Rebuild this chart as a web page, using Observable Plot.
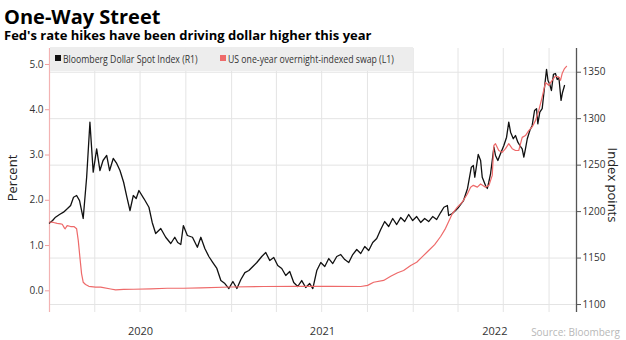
<!DOCTYPE html>
<html><head><meta charset="utf-8">
<script src="https://cdn.jsdelivr.net/npm/d3@7"></script>
<script src="https://cdn.jsdelivr.net/npm/@observablehq/plot@0.6"></script>
<style>
html,body{margin:0;padding:0;background:#fff;overflow:hidden;width:626px;height:340px;}
#wrap{position:relative;width:626px;height:340px;font-family:"Open Sans",sans-serif;color:#000;}
#title{position:absolute;left:4px;top:7px;font-weight:700;font-size:20px;line-height:20px;white-space:nowrap;}
#subtitle{position:absolute;left:4px;top:28px;font-weight:700;font-size:13px;line-height:14px;white-space:nowrap;}
#chart{position:absolute;left:0;top:44px;}
#legend{position:absolute;left:50px;top:47px;width:363px;height:24px;background:rgba(236,236,236,0.95);font-size:10px;color:#333;}
.li{position:absolute;top:0;line-height:24px;white-space:nowrap;}
.sq{position:absolute;top:8px;width:6px;height:6px;}
.lt{display:inline-block;transform:scaleX(0.87);transform-origin:left center;}
.ylab{position:absolute;width:120px;height:16px;line-height:16px;font-size:13px;text-align:center;color:#222;white-space:nowrap;}
#source{position:absolute;right:6px;top:326px;font-size:10px;line-height:13px;color:#b8b8b8;}
</style></head>
<body>
<div id="wrap">
  <div id="title">One-Way Street</div>
  <div id="subtitle">Fed's rate hikes have been driving dollar higher this year</div>
  <div id="chart"></div>
  <div id="legend"></div>
  <div class="ylab" id="ylabL" style="left:-48px;top:170px;transform:rotate(-90deg);">Percent</div>
  <div class="ylab" id="ylabR" style="left:553px;top:177px;transform:rotate(90deg);">Index points</div>
  <div id="source">Source: Bloomberg</div>
</div>
<script>
// ---- Data (decimal year, value) ----
const seriesNames = ["Bloomberg Dollar Spot Index (R1)", "US one-year overnight-indexed swap (L1)"];
const seriesColors = ["#111111", "#ee6a6a"];

// Bloomberg Dollar Spot Index, index points (right axis)
const dollarSeries = [
 [2020.000,1187.7],[2020.017,1190.4],[2020.033,1194.0],[2020.055,1196.9],[2020.077,1199.4],[2020.099,1203.3],
 [2020.116,1206.6],[2020.132,1215.5],[2020.149,1217.3],[2020.165,1211.9],[2020.185,1192.6],[2020.204,1237.0],
 [2020.222,1296.2],[2020.240,1242.4],[2020.259,1267.6],[2020.277,1244.2],[2020.294,1255.0],[2020.314,1260.4],
 [2020.330,1244.2],[2020.350,1257.2],[2020.369,1251.8],[2020.387,1244.2],[2020.407,1231.6],[2020.424,1216.3],
 [2020.442,1201.2],[2020.460,1217.3],[2020.476,1214.1],[2020.491,1222.7],[2020.519,1213.8],[2020.546,1204.7],
 [2020.564,1188.3],[2020.583,1176.4],[2020.611,1181.8],[2020.638,1172.4],[2020.666,1165.7],[2020.688,1172.4],
 [2020.704,1166.7],[2020.721,1164.6],[2020.735,1185.0],[2020.757,1174.3],[2020.785,1172.4],[2020.812,1161.7],
 [2020.831,1172.4],[2020.853,1160.3],[2020.875,1151.7],[2020.897,1145.2],[2020.919,1138.8],[2020.941,1125.8],
 [2020.963,1122.6],[2020.985,1117.2],[2021.007,1124.8],[2021.029,1117.2],[2021.051,1126.9],[2021.073,1134.4],
 [2021.095,1136.6],[2021.117,1140.9],[2021.139,1145.2],[2021.166,1151.7],[2021.188,1156.0],[2021.210,1147.4],
 [2021.232,1150.6],[2021.254,1142.0],[2021.276,1138.8],[2021.298,1131.2],[2021.320,1135.5],[2021.342,1123.7],
 [2021.364,1119.4],[2021.386,1125.8],[2021.408,1118.3],[2021.430,1122.6],[2021.447,1117.2],[2021.469,1136.6],
 [2021.491,1145.2],[2021.513,1140.9],[2021.535,1149.5],[2021.557,1144.1],[2021.579,1151.7],[2021.601,1153.8],
 [2021.623,1148.4],[2021.645,1145.2],[2021.667,1153.8],[2021.689,1159.2],[2021.711,1154.9],[2021.733,1162.4],
 [2021.755,1158.1],[2021.777,1166.7],[2021.799,1171.0],[2021.821,1180.7],[2021.843,1189.3],[2021.865,1184.0],
 [2021.887,1192.6],[2021.909,1186.1],[2021.931,1193.6],[2021.953,1189.3],[2021.975,1196.9],[2021.997,1190.4],
 [2022.019,1194.7],[2022.041,1188.3],[2022.063,1192.6],[2022.085,1189.3],[2022.107,1194.7],[2022.129,1191.5],
 [2022.151,1199.0],[2022.169,1204.7],[2022.188,1206.6],[2022.195,1195.8],[2022.215,1198.0],[2022.233,1201.2],
 [2022.250,1204.7],[2022.277,1211.9],[2022.299,1224.9],[2022.320,1247.8],[2022.331,1249.6],[2022.339,1237.0],
 [2022.358,1261.5],[2022.371,1255.0],[2022.380,1237.0],[2022.398,1228.1],[2022.408,1224.9],[2022.416,1231.6],
 [2022.426,1241.0],[2022.435,1255.0],[2022.444,1269.3],[2022.453,1260.4],[2022.466,1255.0],[2022.481,1262.5],
 [2022.499,1271.1],[2022.514,1280.1],[2022.526,1296.2],[2022.536,1285.5],[2022.551,1278.4],[2022.563,1281.9],
 [2022.576,1274.7],[2022.587,1271.1],[2022.600,1267.6],[2022.609,1258.6],[2022.618,1267.6],[2022.628,1278.4],
 [2022.642,1287.3],[2022.655,1292.7],[2022.668,1308.8],[2022.679,1310.7],[2022.686,1294.5],[2022.697,1307.0],
 [2022.710,1310.7],[2022.719,1326.8],[2022.734,1353.0],[2022.742,1341.1],[2022.752,1336.8],[2022.761,1330.3],
 [2022.772,1347.6],[2022.783,1348.6],[2022.793,1342.2],[2022.802,1344.3],[2022.814,1319.6],[2022.822,1328.2],
 [2022.833,1335.7]
];

// US one-year overnight-indexed swap, percent (left axis)
const oisSeries = [
 [2020.000,1.52],[2020.022,1.51],[2020.042,1.49],[2020.061,1.48],[2020.070,1.47],[2020.083,1.38],[2020.086,1.37],
 [2020.097,1.44],[2020.116,1.42],[2020.134,1.42],[2020.149,1.37],[2020.158,1.11],[2020.167,0.74],[2020.176,0.38],
 [2020.185,0.19],[2020.198,0.14],[2020.216,0.10],[2020.253,0.08],[2020.281,0.08],[2020.336,0.04],[2020.363,0.02],
 [2020.407,0.03],[2020.462,0.035],[2020.556,0.045],[2020.647,0.057],[2020.737,0.057],[2020.831,0.066],
 [2020.996,0.084],[2021.177,0.095],[2021.364,0.10],[2021.546,0.10],[2021.711,0.095],[2021.749,0.12],
 [2021.782,0.19],[2021.837,0.23],[2021.876,0.32],[2021.914,0.40],[2021.947,0.45],[2021.986,0.56],
 [2022.019,0.63],[2022.052,0.76],[2022.085,0.89],[2022.118,1.02],[2022.151,1.20],[2022.178,1.38],
 [2022.215,1.70],[2022.243,1.85],[2022.270,1.96],[2022.298,2.14],[2022.316,2.29],[2022.331,2.33],
 [2022.353,2.29],[2022.371,2.36],[2022.398,2.29],[2022.417,2.33],[2022.435,2.55],[2022.444,3.21],
 [2022.453,3.25],[2022.471,3.10],[2022.490,3.06],[2022.508,3.14],[2022.526,3.25],[2022.545,3.14],
 [2022.563,3.10],[2022.581,3.10],[2022.591,3.25],[2022.600,3.39],[2022.618,3.43],[2022.636,3.54],
 [2022.655,3.62],[2022.673,3.76],[2022.691,3.98],[2022.710,4.28],[2022.728,4.60],[2022.746,4.54],
 [2022.765,4.65],[2022.783,4.74],[2022.802,4.72],[2022.811,4.65],[2022.820,4.80],[2022.833,4.91],[2022.844,4.96]
];

const leftTicks = [0, 1, 2, 3, 4, 5];
const rightTicks = [1100, 1150, 1200, 1250, 1300, 1350];
const years = [2020, 2021, 2022];
const xDomainYears = [2020.0, 2022.899];
const leftDomain = [-0.479, 5.353];
// right axis (index points) aligned to left axis (percent)
const rightAnchor = [1100, 1350], leftAnchor = [-0.303, 4.829];

// ---- helpers ----
const toDate = t => { const y = Math.floor(t); const s = Date.UTC(y,0,1), e = Date.UTC(y+1,0,1); return new Date(s + (t - y) * (e - s)); };
const toL = d3.scaleLinear(rightAnchor, leftAnchor);
const dollar = dollarSeries.map(([t, v]) => ({date: toDate(t), v: toL(v)}));
const ois = oisSeries.map(([t, v]) => ({date: toDate(t), v}));
const x0 = toDate(xDomainYears[0]), x1 = toDate(xDomainYears[1]);
const quarters = d3.utcMonth.every(3).range(x0, x1);
const yearMids = years.map(y => {
  const a = Math.max(+x0, Date.UTC(y,0,1)), b = Math.min(+x1, Date.UTC(y+1,0,1));
  return new Date((a + b) / 2);
});
const gridCol = "#e4e4e4";

const chart = Plot.plot({
  width: 626, height: 296,
  marginTop: 4, marginBottom: 28, marginLeft: 49, marginRight: 50,
  x: {type: "utc", domain: [x0, x1], label: null},
  y: {domain: leftDomain, label: null},
  style: {fontFamily: "'Open Sans', sans-serif", fontSize: "10px", color: "#333", background: "transparent"},
  marks: [
    Plot.gridX(quarters, {stroke: gridCol, strokeOpacity: 1}),
    Plot.gridY(rightTicks.map(toL), {stroke: gridCol, strokeOpacity: 1}),
    Plot.ruleX([x0], {stroke: "#f3b3b3", strokeWidth: 1.2}),
    Plot.ruleX([x1], {stroke: "#555", strokeWidth: 1.3}),
    Plot.axisY(leftTicks, {anchor: "left", tickSize: 4, tickPadding: 2, tickFormat: d3.format(".1f"), stroke: "#f0a0a0", fill: "#333", label: null}),
    Plot.axisY(rightTicks.map(toL), {anchor: "right", tickSize: 4, tickPadding: 2, tickFormat: d => String(Math.round(toL.invert(d))), stroke: "#555", fill: "#333", label: null}),
    Plot.axisX(yearMids, {anchor: "bottom", tickSize: 0, tickPadding: 15, tickFormat: d => String(d.getUTCFullYear()), fontSize: 11, fill: "#333", label: null}),
    Plot.line(dollar, {x: "date", y: "v", stroke: seriesColors[0], strokeWidth: 1.3}),
    Plot.line(ois, {x: "date", y: "v", stroke: seriesColors[1], strokeWidth: 1.2})
  ]
});
document.getElementById("chart").appendChild(chart);

// legend
const legend = document.getElementById("legend");
const itemX = [5, 170];
seriesNames.forEach((name, i) => {
  const sq = document.createElement("div");
  sq.className = "sq"; sq.style.left = itemX[i] + "px"; sq.style.background = seriesColors[i];
  legend.appendChild(sq);
  const li = document.createElement("div");
  li.className = "li"; li.style.left = (itemX[i] + 8) + "px";
  li.innerHTML = '<span class="lt"></span>';
  li.firstChild.textContent = name;
  legend.appendChild(li);
});
</script>
</body></html>
